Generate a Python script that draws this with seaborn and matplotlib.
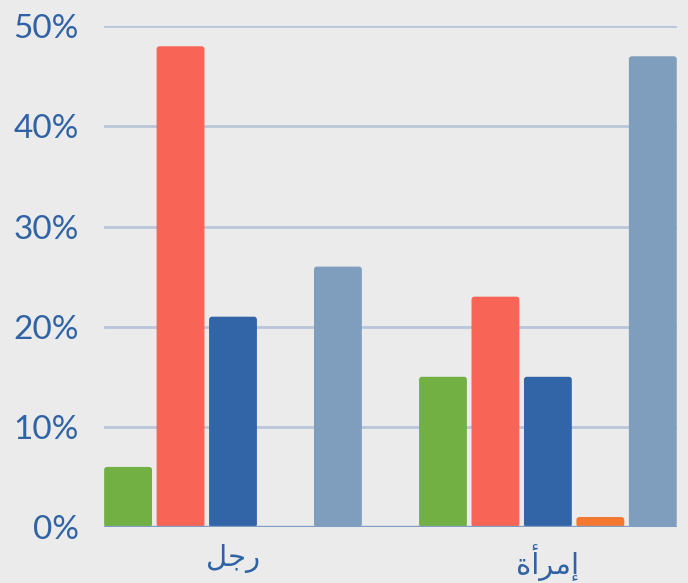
import pandas as pd
import numpy as np
import matplotlib.pyplot as plt
import seaborn as sns
from matplotlib.patches import FancyBboxPatch

# Arabic labels: matplotlib does no shaping, so use presentation forms in visual order
groups = ['\uFEDE\uFE9F\uFEAD', '\uFE93\uFE83\uFEAE\uFEE3\uFE87']  # رجل , إمرأة
series = ['s1', 's2', 's3', 's4', 's5']
man = [6, 48, 21, 0, 26]
woman = [15, 23, 15, 1, 47]
colors = ['#72b044', '#f86556', '#3165a8', '#f4782f', '#7f9dbd']

df = pd.DataFrame({
    'group': [groups[0]] * 5 + [groups[1]] * 5,
    'series': series * 2,
    'value': man + woman,
})

sns.set_style('white')
plt.rcParams['font.family'] = ['Lato', 'DejaVu Sans']

fig = plt.figure(figsize=(6.88, 5.83), dpi=100, facecolor='#ebebeb')
ax = fig.add_axes([0.151, 0.096, 0.833, 0.859])
ax.set_facecolor('#ebebeb')

sns.barplot(data=df, x='group', y='value', hue='series', hue_order=series,
            palette=colors, saturation=1, width=0.833, gap=0.088,
            legend=False, ax=ax, zorder=3, linewidth=0)

ax.set_xlim(-0.41, 1.41)
ax.set_ylim(0, 50)

# slightly rounded bar corners
for p in list(ax.patches):
    x, y = p.get_x(), p.get_y()
    w, h = p.get_width(), p.get_height()
    if h <= 0:
        p.remove()
        continue
    rb = FancyBboxPatch((x, y), w, h, boxstyle='round,pad=0,rounding_size=0.009',
                        mutation_aspect=31.4, facecolor=p.get_facecolor(),
                        edgecolor='none', zorder=3)
    p.remove()
    ax.add_patch(rb)

ax.set_yticks([0, 10, 20, 30, 40, 50])
ax.set_yticklabels([f'{v}%' for v in range(0, 60, 10)])
ax.yaxis.grid(True, color='#b9c6d9', linewidth=2, zorder=0)
ax.set_axisbelow(True)
ax.axhline(0, color='#7f9dc5', linewidth=2.4, zorder=5)
for s in ax.spines.values():
    s.set_visible(False)
ax.tick_params(axis='y', length=0, pad=18, labelsize=24, labelcolor='#3063a5')
ax.tick_params(axis='x', length=0, pad=12, labelsize=21, labelcolor='#3063a5')
ax.set_xlabel('')
ax.set_ylabel('')

fig.savefig('out.png', dpi=100, facecolor=fig.get_facecolor())
